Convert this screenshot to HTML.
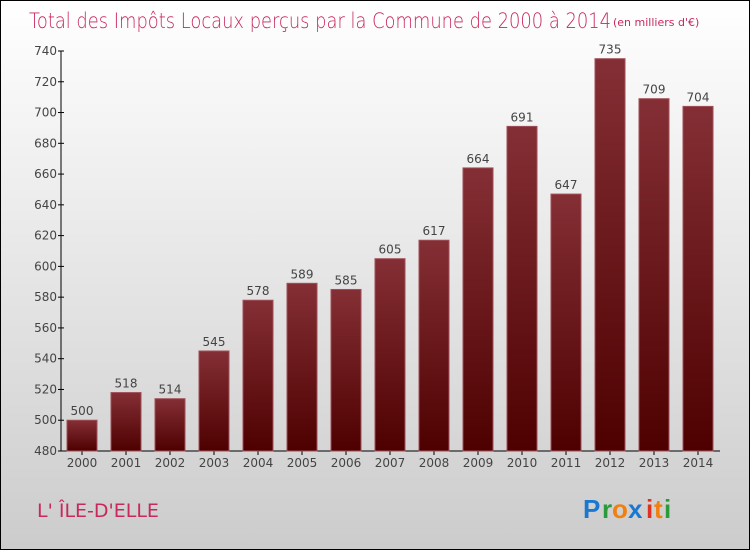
<!DOCTYPE html>
<html><head><meta charset="utf-8"><style>
body{margin:0}
#wrap{position:relative;width:748px;height:548px;border:1px solid #000;background:linear-gradient(#fff,#ccc);overflow:hidden;font-family:"DejaVu Sans","Liberation Sans",sans-serif}
</style></head><body>
<div id="wrap">
<svg width="748" height="548" style="position:absolute;left:0;top:0">
<defs><linearGradient id="bg" x1="0" y1="0" x2="0" y2="1"><stop offset="0" stop-color="#842f35"/><stop offset="1" stop-color="#4e0000"/></linearGradient></defs>
<text x="28" y="27" font-size="21" fill="#c8285a" font-family="DejaVu Sans,Liberation Sans,sans-serif" font-weight="200" textLength="582" lengthAdjust="spacingAndGlyphs">Total des Impôts Locaux perçus par la Commune de 2000 à 2014</text>
<text x="612" y="25" font-size="11" fill="#c8285a">(en milliers d'€)</text>
<g id="axes"></g><g id="bars"></g>
<text x="36" y="516" font-size="19" fill="#c8285a">L' ÎLE-D'ELLE</text>
<g font-size="26" font-weight="bold" font-family="Liberation Sans,sans-serif">
<text x="582" y="517" fill="#1a78d0">P</text><text x="601" y="517" fill="#2a9a3a">r</text><text x="611" y="517" fill="#f08010">o</text><text x="627" y="517" fill="#1a78d0">x</text><text x="645" y="517" fill="#e03020">i</text><text x="653" y="517" fill="#f08010">t</text><text x="663" y="517" fill="#2a9a3a">i</text>
</g>
</svg>
</div>
<script>
const years=["2000","2001","2002","2003","2004","2005","2006","2007","2008","2009","2010","2011","2012","2013","2014"];
const values=[500,518,514,545,578,589,585,605,617,664,691,647,735,709,704];
const yTicks=[480,500,520,540,560,580,600,620,640,660,680,700,720,740];
const NS="http://www.w3.org/2000/svg";
const y=v=>450-(v-480)*400/260;
const x=i=>81+i*44;
function mk(t,a,p){const e=document.createElementNS(NS,t);for(const k in a)e.setAttribute(k,a[k]);p.appendChild(e);return e;}
const ax=document.getElementById('axes'),bg=document.getElementById('bars');
let l=mk('line',{x1:60,y1:50,x2:60,y2:450,stroke:'#000'},ax);


l=mk('line',{x1:57,y1:450,x2:719,y2:450,stroke:'#000'},ax);


yTicks.forEach(v=>{
 mk('line',{x1:57,y1:y(v),x2:63,y2:y(v),stroke:'#000'},ax);
 const t=mk('text',{x:56,y:y(v)+4,'font-size':12,fill:'#444','text-anchor':'end'},ax);t.textContent=v;
 
 
});
years.forEach((yr,i)=>{
 const v=values[i];
 const r=mk('rect',{x:x(i)-15,y:y(v),width:30,height:450-y(v),fill:'url(#bg)',stroke:'#a05058','stroke-width':1},bg);
 
 
 const t=mk('text',{x:x(i),y:y(v)-5,'font-size':12,fill:'#444','text-anchor':'middle'},bg);t.textContent=v;
 
 
 mk('line',{x1:x(i),y1:450,x2:x(i),y2:454,stroke:'#000'},ax);
 const xt=mk('text',{x:x(i),y:466,'font-size':12,fill:'#444','text-anchor':'middle'},ax);xt.textContent=yr;
 
 
});
</script>
</body></html>
